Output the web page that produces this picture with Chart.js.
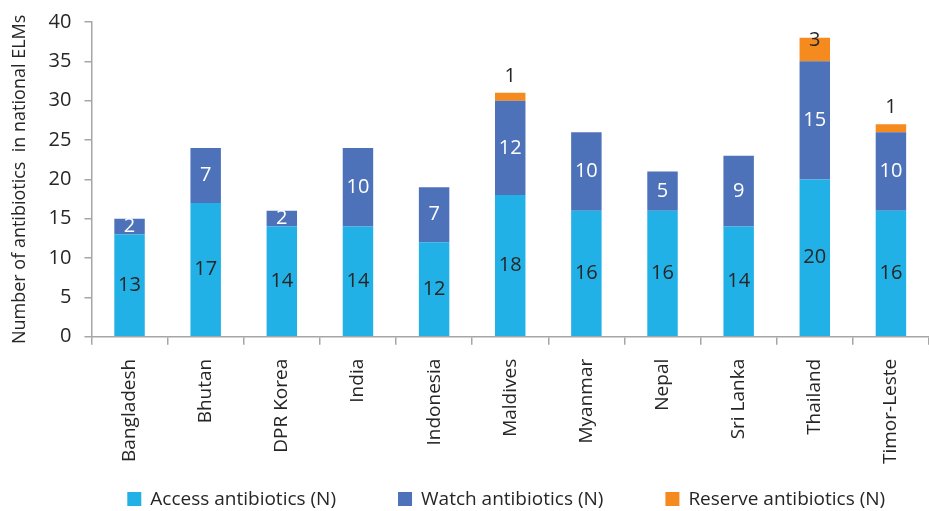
<!DOCTYPE html>
<html>
<head>
<meta charset="utf-8">
<script src="https://cdn.jsdelivr.net/npm/chart.js@4"></script>
<style>
  html, body { margin: 0; padding: 0; background: #fff; }
  #wrap { width: 929px; height: 511px; }
</style>
</head>
<body>
<div id="wrap"><canvas id="chart"></canvas></div>
<script>
const countries = ["Bangladesh", "Bhutan", "DPR Korea", "India", "Indonesia", "Maldives",
  "Myanmar", "Nepal", "Sri Lanka", "Thailand", "Timor-Leste"];
const access = [13, 17, 14, 14, 12, 18, 16, 16, 14, 20, 16];
const watch = [2, 7, 2, 10, 7, 12, 10, 5, 9, 15, 10];
const reserve = [null, null, null, null, null, 1, null, null, null, 3, 1];

const FONT = "'Open Sans', 'Noto Sans', sans-serif";
const AXIS = "#a6a6a6";
const TEXT = "#262626";

// numbers on the bars
const barLabels = {
  id: "barLabels",
  afterDatasetsDraw(chart) {
    const ctx = chart.ctx;
    ctx.save();
    ctx.font = "20px " + FONT;
    ctx.textAlign = "center";
    ctx.textBaseline = "middle";
    chart.data.datasets.forEach((ds, i) => {
      const meta = chart.getDatasetMeta(i);
      meta.data.forEach((bar, j) => {
        const v = ds.data[j];
        if (v == null) return;
        let y = (bar.y + bar.base) / 2;
        if (i === 2) y = Math.max(bar.y - 17, chart.chartArea.top + 18);
        ctx.fillStyle = i === 1 ? "#fff" : TEXT;
        ctx.fillText(v, bar.x, y);
      });
    });
    ctx.restore();
  }
};

// legend drawn by hand so spacing matches
const bottomLegend = {
  id: "bottomLegend",
  afterDraw(chart) {
    const ctx = chart.ctx;
    const gap = 62, box = 14;
    ctx.save();
    ctx.font = "19px " + FONT;
    ctx.textBaseline = "middle";
    const items = chart.data.datasets.map(d => ({ text: d.label, color: d.backgroundColor, w: box + 9 + ctx.measureText(d.label).width }));
    const total = items.reduce((s, it) => s + it.w, 0) + gap * (items.length - 1);
    const area = chart.chartArea;
    let x = (area.left + area.right) / 2 - total / 2 - 4;
    const y = chart.height - 12;
    items.forEach(it => {
      ctx.fillStyle = it.color;
      ctx.fillRect(x, y - box / 2, box, box);
      ctx.fillStyle = TEXT;
      ctx.fillText(it.text, x + box + 9, y + 1);
      x += it.w + gap;
    });
    ctx.restore();
  }
};

new Chart(document.getElementById("chart"), {
  type: "bar",
  data: {
    labels: countries,
    datasets: [
      { label: "Access antibiotics (N)", data: access, backgroundColor: "#21b1e6" },
      { label: "Watch antibiotics (N)", data: watch, backgroundColor: "#4d72b9" },
      { label: "Reserve antibiotics (N)", data: reserve, backgroundColor: "#f58a1f" },
    ],
  },
  options: {
    responsive: true,
    maintainAspectRatio: false,
    animation: false,
    datasets: { bar: { barPercentage: 0.8, categoryPercentage: 0.5 } },
    layout: { padding: { top: 6, right: 0, left: 9, bottom: 33 } },
    scales: {
      x: {
        stacked: true,
        border: { color: AXIS, width: 1.5 },
        grid: { display: true, drawOnChartArea: false, offset: true, tickLength: 8, color: AXIS, lineWidth: 1.5 },
        ticks: { color: TEXT, font: { size: 19, family: FONT }, minRotation: 90, maxRotation: 90, padding: 14 },
      },
      y: {
        stacked: true,
        min: 0,
        max: 40,
        border: { color: AXIS, width: 1.5 },
        grid: { display: true, drawOnChartArea: false, tickLength: 7, color: AXIS, lineWidth: 1.5 },
        ticks: { stepSize: 5, color: TEXT, font: { size: 20, family: FONT, lineHeight: 0.9 }, padding: 13 },
        title: {
          display: true,
          text: "Number of antibiotics  in national ELMs",
          color: TEXT,
          font: { size: 18, family: FONT },
          padding: { top: 0, bottom: 5 },
        },
      },
    },
    plugins: {
      legend: { display: false },
      tooltip: { enabled: false },
    },
  },
  plugins: [barLabels, bottomLegend],
});
</script>
</body>
</html>
